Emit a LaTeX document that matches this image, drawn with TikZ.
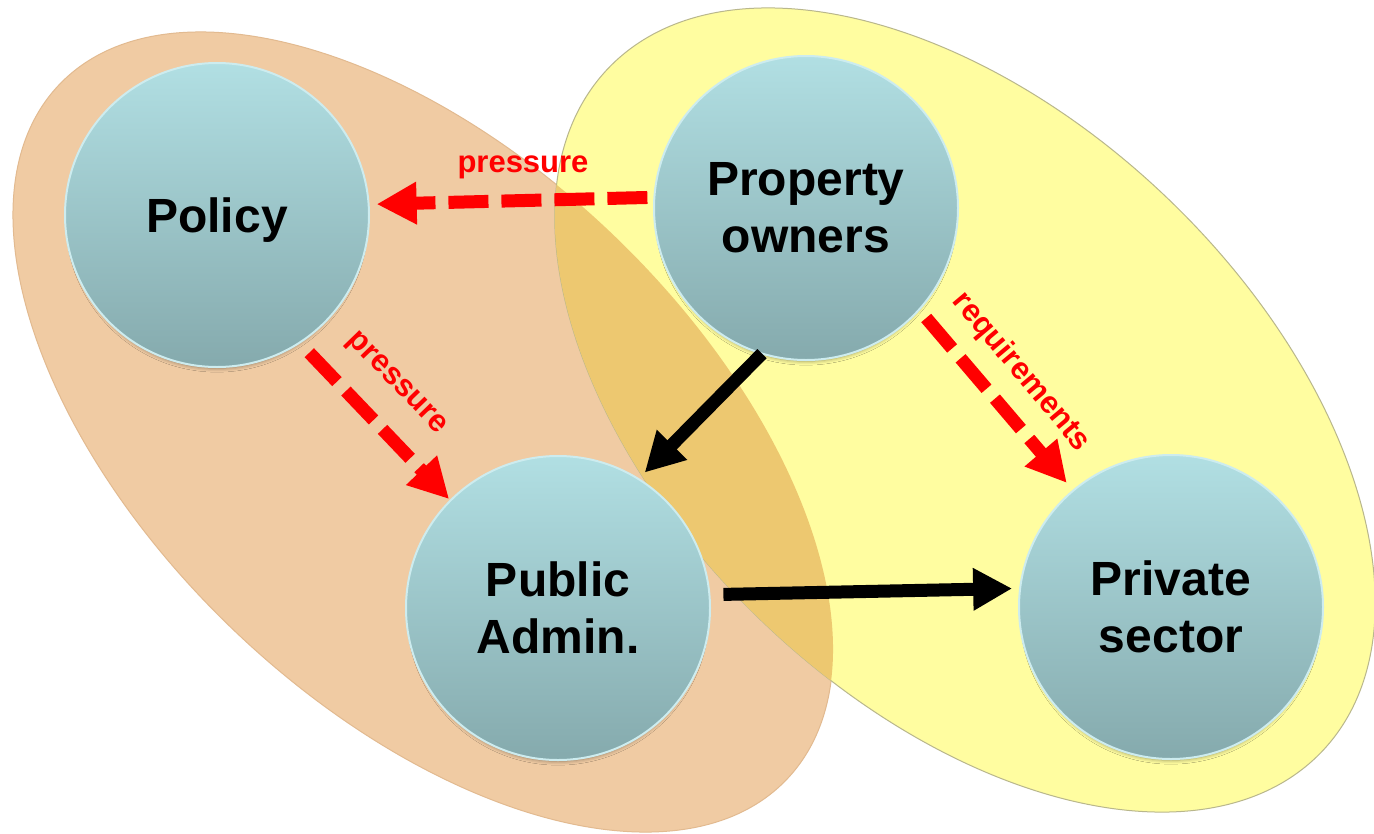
\documentclass[tikz,border=0pt]{standalone}
\usepackage{fontspec}
\setmainfont{Liberation Sans}
\usetikzlibrary{arrows.meta,shadows.blur}
\definecolor{orangefill}{HTML}{F0CBA3}
\definecolor{orangeline}{HTML}{E2BA90}
\definecolor{yellowfill}{HTML}{FFFDA0}
\definecolor{yellowline}{HTML}{B9B78C}
\definecolor{overlapfill}{HTML}{EDC870}
\definecolor{circtop}{HTML}{B1DFE3}
\definecolor{circbot}{HTML}{85AAAD}
\definecolor{circline}{HTML}{CDECEF}
\definecolor{arrred}{HTML}{FF0000}
\begin{document}
\begin{tikzpicture}[x=1pt,y=-1pt,
  actor/.style={circle, minimum size=304pt, inner sep=0pt, draw=circline, line width=2pt,
    top color=circtop, bottom color=circbot,
    blur shadow={shadow xshift=0pt, shadow yshift=-6pt, shadow blur radius=4pt, shadow scale=0.97, shadow opacity=40},
    font=\fontsize{48}{57}\selectfont\bfseries, align=center, text=black},
  redflow/.style={draw=arrred, line width=13pt, dash pattern=on 40pt off 13pt,
    -{Triangle[length=40pt,width=40pt]}},
  blackflow/.style={draw=black, line width=13pt, -{Triangle[length=39pt,width=40pt]}},
  flowlabel/.style={text=arrred, font=\fontsize{31}{37}\selectfont\bfseries, inner sep=0pt},
  orangeshape/.style={shift={(423,432)}, rotate=-43.7},
  yellowshape/.style={shift={(965,410)}, rotate=-43.8}
]
\useasboundingbox (0,0) rectangle (1374,833);
\fill[white] (0,0) rectangle (1374,833);

% group ellipses
\fill[orangefill, draw=orangeline, line width=1pt, orangeshape] (0,0) ellipse [x radius=503pt, y radius=274pt];
\fill[yellowfill, draw=yellowline, line width=1pt, yellowshape] (0,0) ellipse [x radius=494pt, y radius=293pt];
\begin{scope}
  \clip[orangeshape] (0,0) ellipse [x radius=503pt, y radius=274pt];
  \fill[overlapfill, yellowshape] (0,0) ellipse [x radius=494pt, y radius=293pt];
\end{scope}

% actors
\node[actor, text depth=0pt] (policy) at (217,215) {Policy};
\node[actor] (owners) at (806,208) {Property\\owners};
\node[actor] (pubadmin) at (558,608) {Public\\Admin.};
\node[actor] (private) at (1171,607) {Private\\sector};

% flows
\draw[redflow, shorten <=6pt, shorten >=7pt] (owners.176) -- (policy.4);
\draw[redflow, shorten <=13pt, shorten >=1pt] (policy.-57) -- (pubadmin.135);
\draw[redflow, shorten <=10pt, shorten >=9pt] (owners.-42.5) -- (private.130.8);
\draw[blackflow, shorten <=-1pt, shorten >=8pt] (owners.-107.2) -- (pubadmin.58.2);
\draw[blackflow, shorten <=13pt, shorten >=7pt] (pubadmin.5.5) -- (private.173.2);

% labels
\node[flowlabel, anchor=base] (lblA) at (523,172) {pressure};
\node[flowlabel, rotate=-46] (lblB) at (396,384) {pressure};
\node[flowlabel, rotate=-50] (lblC) at (1021,372) {requirements};
\end{tikzpicture}
\end{document}
